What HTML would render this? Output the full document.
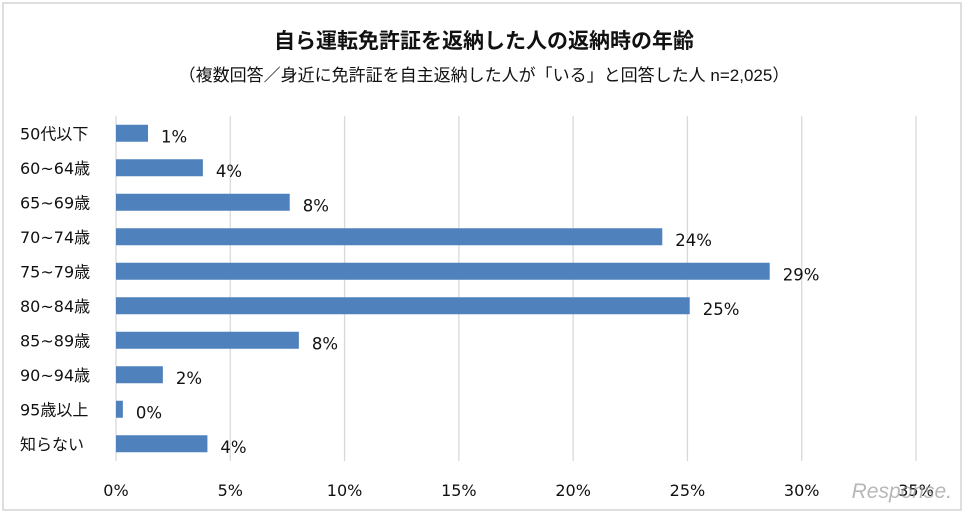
<!DOCTYPE html>
<html><head><meta charset="utf-8"><style>
body{margin:0;background:#fff;}
svg{display:block;font-family:"DejaVu Sans","Noto Sans CJK JP",sans-serif;}
</style></head><body>
<svg id="c" width="968" height="515">
<rect x="3" y="3" width="958" height="507" fill="#fff" stroke="#d4d4d4" stroke-width="1.5"/>
<text x="484" y="48" text-anchor="middle" font-size="21" font-weight="bold" fill="#111" font-family="Liberation Sans, Noto Sans CJK JP, sans-serif">自ら運転免許証を返納した人の返納時の年齢</text>
<text x="484" y="81" text-anchor="middle" font-size="17" fill="#111" font-family="Liberation Sans, Noto Sans CJK JP, sans-serif">（複数回答／身近に免許証を自主返納した人が「いる」と回答した人  n=2,025）</text>
<g id="grid"></g><g id="bars"></g><g id="xt"></g><g id="yt"></g>
<text x="952" y="498" text-anchor="end" font-size="21" font-style="italic" fill="#999" opacity="0.7" font-family="Liberation Sans, sans-serif">Response.</text>
</svg>
<script>
const categories=["50代以下","60~64歳","65~69歳","70~74歳","75~79歳","80~84歳","85~89歳","90~94歳","95歳以上","知らない"];
const values=[1.4,3.8,7.6,23.9,28.6,25.1,8.0,2.05,0.3,4.0];
const valueLabels=["1%","4%","8%","24%","29%","25%","8%","2%","0%","4%"];
const ticks=[0,5,10,15,20,25,30,35];
const NS="http://www.w3.org/2000/svg";
const x0=116,x1=916,xmax=35,yTop=116,yBot=461;
const X=v=>x0+(x1-x0)*v/xmax;
const band=(yBot-yTop)/categories.length;
const Y=i=>yTop+band*(i+0.5);
function mk(t,a,p){const e=document.createElementNS(NS,t);for(const k in a)e.setAttribute(k,a[k]);document.getElementById(p).appendChild(e);return e;}
ticks.forEach(t=>{
 const l=mk("line",{x1:X(t),x2:X(t),y1:yTop,y2:yBot,stroke:"#d9d9d9","stroke-width":1.3},"grid");
 
 
 const tx=mk("text",{x:X(t),y:496,"text-anchor":"middle","font-size":16,fill:"#111"},"xt");
 tx.textContent=t+"%";
 
 
});
categories.forEach((c,i)=>{
 const y=Y(i);
 const r=mk("rect",{x:X(0),y:y-8.5,width:X(values[i])-X(0),height:17,fill:"#4f81bd"},"bars");
 
 
 const v=mk("text",{x:X(values[i])+13,y:y+9,"font-size":16.5,fill:"#111"},"bars");
 v.textContent=valueLabels[i];
 
 
 const l=mk("text",{x:20,y:y+6,"font-size":16,fill:"#111"},"yt");
 l.textContent=c;
 
 
});
</script>
</body></html>
